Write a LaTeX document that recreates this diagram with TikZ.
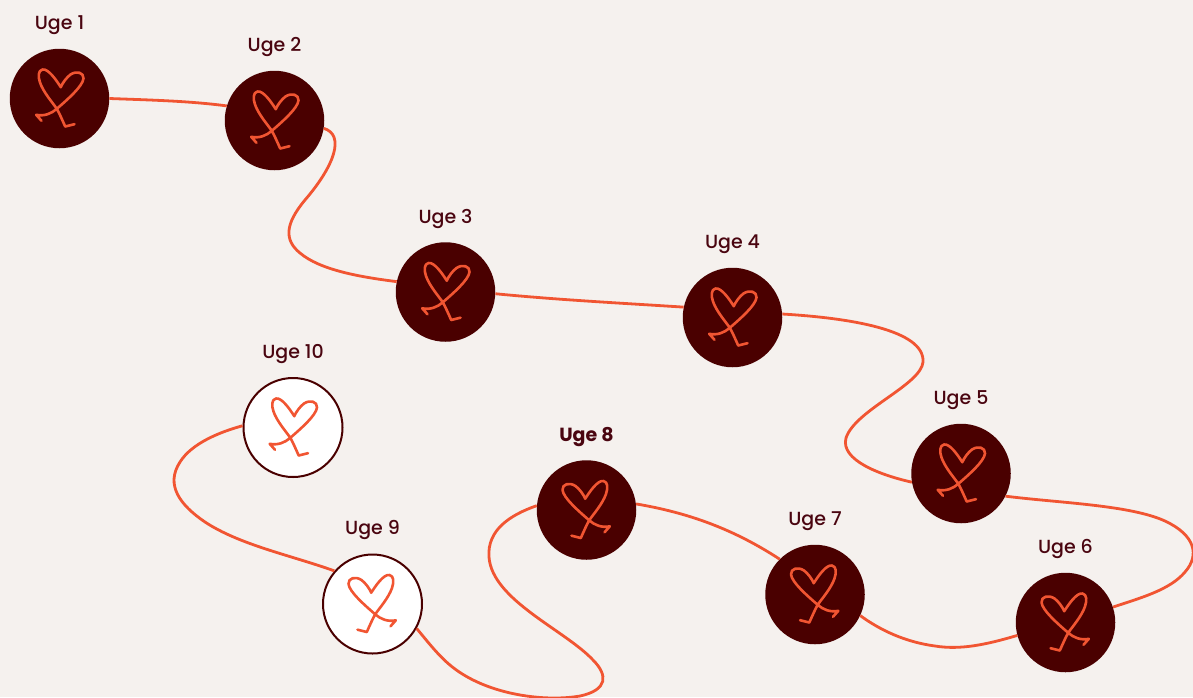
\documentclass[tikz,border=0pt]{standalone}
\usepackage{fontspec}
\setmainfont{Poppins Medium}[BoldFont={Poppins Bold}]
\usetikzlibrary{positioning}
\definecolor{pagecol}{HTML}{F5F1EE}
\definecolor{darkcol}{HTML}{4A0000}
\definecolor{linecol}{HTML}{F15532}
\definecolor{textcol}{HTML}{4A0510}
\tikzset{
	week/.style={circle, fill=darkcol, minimum size=99.5pt, inner sep=0pt},
	openweek/.style={circle, fill=white, draw=darkcol, line width=2pt, minimum size=99pt, inner sep=0pt},
	weeklabel/.style={text=textcol, font=\fontsize{19}{22}\selectfont, inner sep=0pt},
	path/.style={draw=linecol, line width=2.8pt},
	heart/.pic={
		\draw[linecol, line width=2.6pt, line join=round, line cap=round]
		(-18,22.3) -- (-23.3,16.3) .. controls (-15,18) and (-8,15) .. (-2.7,10.3)
		.. controls (8,1) and (23,-12) .. (24,-20) .. controls (24.5,-26) and (17,-28) .. (11,-24)
		.. controls (7,-21) and (3,-15.5) .. (1.3,-11.3) .. controls (-3,-18) and (-11,-30) .. (-17,-29)
		.. controls (-21.5,-28) and (-21.5,-22) .. (-19.5,-16) .. controls (-16,-6) and (-7,4) .. (-2.7,10.3)
		.. controls (0,15) and (3,22) .. (5.7,28) -- (15,25.7);
	}
}
\begin{document}
\begin{tikzpicture}[x=1pt,y=-1pt]
	\clip (0,0) rectangle (1193,697);
	\fill[pagecol] (0,0) rectangle (1193,697);
	% weeks
	\foreach \i/\x/\y/\s/\m in {1/59.5/98.5/week/1, 2/274.5/120.5/week/1, 3/445.5/292/week/1,
		4/732.5/317.5/week/1, 5/961/473.5/week/1, 6/1065.5/622.5/week/-1, 7/815/594.5/week/-1,
		8/586.5/510/week/-1, 9/372.5/604/openweek/-1, 10/293/427.5/openweek/1}
	{
		\node[\s] (w\i) at (\x,\y) {};
		\pic[xscale=\m] at (\x,\y) {heart};
	}
	% labels
	\foreach \i in {1,2,3,4,5,6,7,9,10}
		\node[weeklabel, above=13.5pt of w\i] (l\i) {Uge \i};
	\node[weeklabel, above=13.5pt of w8] (l8) {\textbf{Uge 8}};
	% connectors
	\draw[path] (w1.east) .. controls (150,100) and (190,101) .. (w2.163);
	\draw[path] (w2.-9) .. controls (345,135) and (335,165) .. (305,200)
		.. controls (285,224) and (284,240) .. (300,253) .. controls (320,270) and (360,277) .. (w3.168);
	\draw[path] (w3.-2) .. controls (560,300) and (620,303) .. (w4.168);
	\draw[path] (w4.4) .. controls (850,318) and (925,330) .. (923,362)
		.. controls (921,385) and (855,410) .. (846,438) .. controls (840,460) and (880,475) .. (w5.190);
	\draw[path] (w5.-27) .. controls (1060,503) and (1130,505) .. (1165,521)
		.. controls (1195,535) and (1200,555) .. (1185,572) .. controls (1170,590) and (1140,598) .. (w6.18);
	\draw[path] (w6.195) .. controls (985,645) and (960,650) .. (935,646)
		.. controls (905,642) and (880,630) .. (w7.-25);
	\draw[path] (w7.135) .. controls (735,530) and (690,513) .. (w8.7);
	\draw[path] (w8.175) .. controls (510,515) and (487,530) .. (489,557)
		.. controls (492,600) and (565,630) .. (593,660) .. controls (608,675) and (608,690) .. (580,696)
		.. controls (545,702) and (490,695) .. (455,669) .. controls (440,658) and (428,642) .. (w9.-29);
	\draw[path] (w9.139) .. controls (290,555) and (240,545) .. (205,522)
		.. controls (180,505) and (165,485) .. (180,462) .. controls (192,443) and (220,432) .. (w10.178);
\end{tikzpicture}
\end{document}
